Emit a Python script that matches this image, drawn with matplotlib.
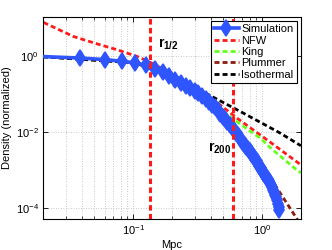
import matplotlib
matplotlib.use("Agg")
import matplotlib.pyplot as plt
from matplotlib.ticker import LogLocator, NullLocator, NullFormatter, FixedLocator

plt.rcParams['font.family'] = ['Liberation Sans', 'DejaVu Sans']
plt.rcParams['mathtext.fontset'] = 'custom'
plt.rcParams['mathtext.rm'] = 'Liberation Sans'
plt.rcParams['mathtext.it'] = 'Liberation Sans:italic'
plt.rcParams['mathtext.bf'] = 'Liberation Sans:bold'

# ---------------- data ----------------
sim_r = [0.0173, 0.0390, 0.0607, 0.0824, 0.1041, 0.1258, 0.1475, 0.1692, 0.1909, 0.2126,
         0.2343, 0.2560, 0.2777, 0.2994, 0.3211, 0.3428, 0.3645, 0.3862, 0.4079, 0.4296,
         0.4513, 0.4730, 0.4947, 0.5164, 0.5381, 0.5598, 0.5815, 0.6032, 0.6249, 0.6466,
         0.6683, 0.6900, 0.7117, 0.7334, 0.7551, 0.7768, 0.7985, 0.8202, 0.8419, 0.8636,
         0.8853, 0.9070, 0.9287, 0.9504, 0.9721, 0.9938, 1.0155, 1.0372, 1.0589, 1.0806,
         1.1023, 1.1240, 1.1457, 1.1674, 1.1891, 1.2108, 1.2325, 1.2542, 1.2759, 1.2976,
         1.3193, 1.3410, 1.3627]
sim_rho = [1.000, 0.897, 0.816, 0.735, 0.670, 0.580, 0.474, 0.3755, 0.3016, 0.244,
           0.2012, 0.1687, 0.1423, 0.1217, 0.1051, 0.0884, 0.0736, 0.0619, 0.0526, 0.0450,
           0.0376, 0.0311, 0.0259, 0.0218, 0.01848, 0.01574, 0.0135, 0.01149, 0.00974, 0.0083,
           0.00711, 0.00614, 0.00534, 0.00467, 0.0041, 0.0036, 0.00318, 0.00282, 0.0025, 0.00222,
           0.00196, 0.00171, 0.0015, 0.00132, 0.00117, 0.00103, 0.000917, 0.000815, 0.000727, 0.000646,
           0.000574, 0.000511, 0.000456, 0.000408, 0.000354, 0.000304, 0.000263, 0.000227, 0.000195, 0.00016,
           0.000132, 0.000109, 0.0000906]

nfw_r = [0.0202, 0.0344, 0.0491, 0.0751, 0.1074, 0.1352, 0.193, 0.329, 0.430, 0.647, 1.143, 2.0]
nfw_rho = [7.75, 3.32, 2.27, 1.48, 0.99, 0.695, 0.368, 0.1236, 0.0675, 0.0227, 0.00562, 0.00138]

king_r = [0.0173, 0.1041, 0.1909, 0.2777, 0.394, 0.670, 0.957, 1.205, 1.845, 2.0]
king_rho = [1.0, 0.67, 0.30, 0.142, 0.0635, 0.01675, 0.00716, 0.00347, 0.00103, 0.00085]

plummer_r = [0.0173, 0.1041, 0.1909, 0.2777, 0.3862, 0.5164, 0.69, 0.9, 1.183, 1.879, 2.0]
plummer_rho = [1.0, 0.67, 0.30, 0.142, 0.062, 0.0218, 0.0062, 0.00215, 0.000562, 0.00005, 0.000039]

iso_r = [0.0173, 0.1041, 0.1909, 0.2777, 0.3475, 0.706, 1.365, 2.0]
iso_rho = [1.0, 0.68, 0.305, 0.160, 0.1164, 0.0326, 0.0097, 0.0044]

r_half = 0.135
r_200 = 0.597

legend_labels = ['Simulation', 'NFW', 'King', 'Plummer', 'Isothermal']

# ---------------- plot ----------------
fig = plt.figure(figsize=(3.32, 2.5), dpi=100)
ax = fig.add_axes([0.1295, 0.124, 0.777, 0.808])
ax.set_xscale('log')
ax.set_yscale('log')

dash = (0, (1.8, 1.1))
lw = 2.0
c_sim = '#2F55FF'
c_nfw = '#FF1A1A'
c_king = '#66FF1A'
c_plum = '#8C1C0C'
c_iso = '#000000'

h_nfw, = ax.plot(nfw_r, nfw_rho, color=c_nfw, lw=lw, ls=dash, zorder=2)
h_king, = ax.plot(king_r, king_rho, color=c_king, lw=lw, ls=dash, zorder=2)
h_plum, = ax.plot(plummer_r, plummer_rho, color=c_plum, lw=lw, ls=dash, zorder=2)
h_iso, = ax.plot(iso_r, iso_rho, color=c_iso, lw=lw, ls=dash, zorder=2)
h_sim, = ax.plot(sim_r, sim_rho, color=c_sim, lw=2.6, marker='d', ms=8,
                 mfc=c_sim, mec=c_sim, mew=1.2, zorder=3)

ax.axvline(r_half, color=c_nfw, lw=2.2, ls=dash, zorder=4)
ax.axvline(r_200, color=c_nfw, lw=2.2, ls=dash, zorder=4)

ax.text(0.156, 1.67, r'$\mathbf{r_{1/2}}$', fontsize=10, ha='left', va='baseline', zorder=5)
ax.text(0.379, 0.00307, r'$\mathbf{r_{200}}$', fontsize=10, ha='left', va='baseline', zorder=5)

ax.set_xlim(0.02, 2.0)
ax.set_ylim(5.2e-5, 10.8)

ax.yaxis.set_major_locator(FixedLocator([1e-4, 1e-2, 1.0]))
ax.yaxis.set_minor_locator(NullLocator())
ax.xaxis.set_major_locator(FixedLocator([0.1, 1.0]))
ax.xaxis.set_minor_locator(LogLocator(base=10, subs=[2, 3, 4, 5, 6, 7, 8, 9]))
ax.xaxis.set_minor_formatter(NullFormatter())

ax.grid(True, which='major', color='#b8b8b8', ls=(0, (1, 2)), lw=0.6)
ax.xaxis.grid(True, which='minor', color='#b8b8b8', ls=(0, (1, 2)), lw=0.6)
ax.set_axisbelow(True)

ax.tick_params(which='both', direction='in', top=True, right=True, labelsize=8, pad=3)
ax.tick_params(which='major', length=3.5, width=0.6)
ax.tick_params(which='minor', length=2, width=0.5)
for s in ax.spines.values():
    s.set_linewidth(0.8)

ax.set_xlabel('Mpc', fontsize=8, labelpad=2)
ax.set_ylabel('Density (normalized)', fontsize=8, labelpad=3)

leg = ax.legend([h_sim, h_nfw, h_king, h_plum, h_iso], legend_labels,
                loc='upper right', bbox_to_anchor=(0.9845, 0.980), borderaxespad=0,
                fontsize=8, handlelength=2.2, handletextpad=0.25, labelspacing=0.12,
                borderpad=0.3, fancybox=False, framealpha=1, edgecolor='black')
leg.get_frame().set_linewidth(0.8)

fig.savefig('out.png', dpi=100)
